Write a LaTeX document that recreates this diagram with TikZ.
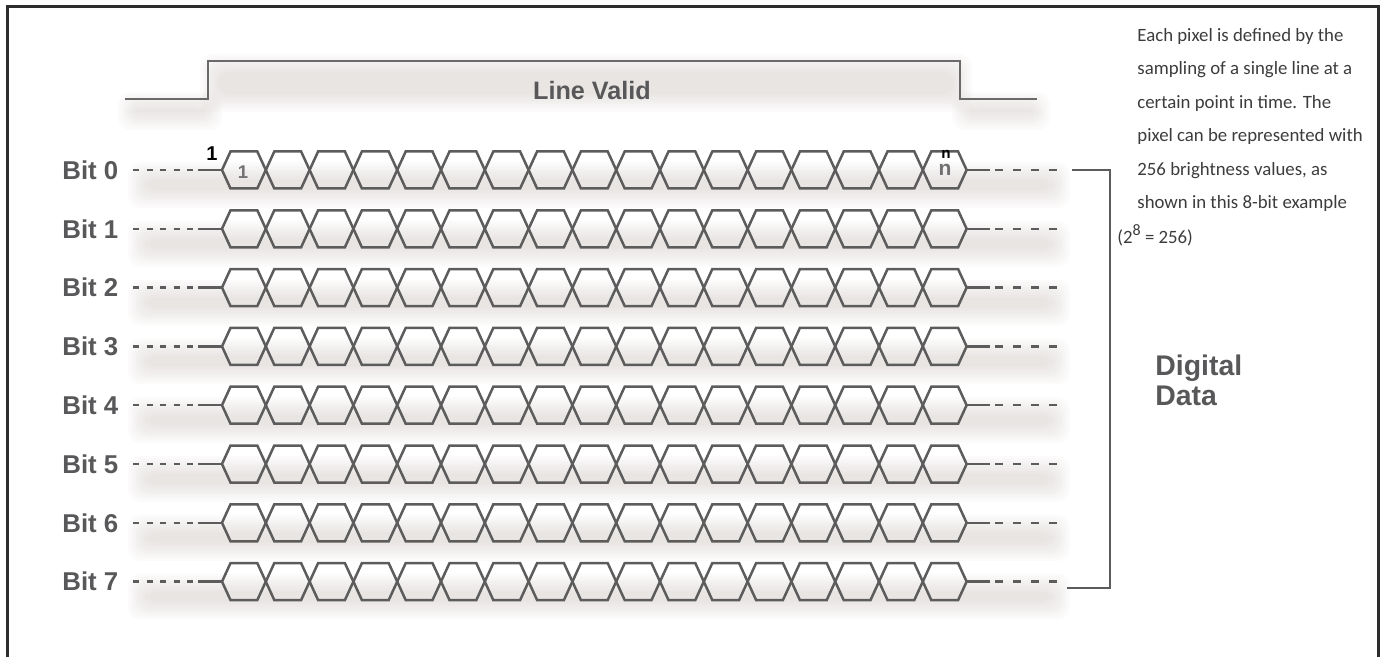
\documentclass[tikz,border=0pt]{standalone}
\usepackage{fontspec}
\setmainfont{Liberation Sans}
\newfontfamily\notefont{Carlito}
\usetikzlibrary{positioning}

\definecolor{linegray}{HTML}{5C5C5C}
\definecolor{wavegray}{HTML}{6A6A6A}
\definecolor{labelgray}{HTML}{58585A}
\definecolor{framegray}{HTML}{2D2D2D}
\definecolor{notegray}{HTML}{3C3C3C}
\definecolor{shadowtone}{RGB}{125,105,95}

% soft shadow band: x1 y1 x2 y2 (picture units)
\newcommand{\softband}[4]{%
  \foreach \j in {0,...,7}{
    \fill[shadowtone, opacity=0.022, rounded corners=6pt]
      ({#1+\j*2.5},{#2+\j*2.5}) rectangle ({#3-\j*2.5},{#4-\j*2.5});
  }}

\begin{document}
\begin{tikzpicture}[
        x=0.5pt, y=-0.5pt,
        bitlabel/.style={
            font=\bfseries\fontsize{12.9}{14}\selectfont,
            text=labelgray, inner sep=0pt, anchor=west
        },
        biglabel/.style={
            font=\bfseries\fontsize{14.2}{15}\selectfont,
            text=labelgray, inner sep=0pt, anchor=base west
        },
        note/.style={
            font=\notefont\fontsize{9.4}{16.75}\selectfont,
            text=notegray, inner sep=0pt, align=left
        },
        hexcell/.style={draw=linegray, line width=1.25pt, line join=miter},
        lead/.style={draw=linegray, line width=1.25pt},
        leaddash/.style={lead, dash pattern=on 3pt off 3.75pt},
        taildash/.style={lead, dash pattern=on 4pt off 5pt},
        wave/.style={draw=wavegray, line width=1.25pt},
        frame/.style={draw=framegray, line width=1.5pt},
        bracket/.style={draw=linegray, line width=1.25pt}
    ]
    \useasboundingbox (0,0) rectangle (1384,657);

    % Shadows
    \softband{118}{92}{222}{130}
    \softband{200}{54}{972}{112}
    \softband{952}{92}{1050}{130}
    \foreach \r in {0,...,7}{
        \pgfmathsetmacro\yy{170+58.8*\r}
        \softband{128}{\yy-8}{1070}{\yy+38}
    }

    % Frame
    \draw[frame] (7,657) |- (1378,7) -- (1378,657);

    % Line valid signal
    \coordinate (lv0) at (125,99);
    \coordinate (lv1) at (208,61);
    \coordinate (lv2) at (960,99);
    \coordinate (lv3) at (1037,99);
    \draw[wave] (lv0) -| (lv1) -| (lv2) -- (lv3);
    \node[font=\bfseries\fontsize{12.6}{14}\selectfont, text=labelgray,
        inner sep=0pt] (lvlabel) at (592,90) {Line Valid};

    % Bit rows
    \foreach \r in {0,...,7}{
        \pgfmathsetmacro\yy{170+58.8*\r}
        \node[bitlabel] (bit\r) at (62,\yy) {Bit \r};
        \coordinate (ldash\r) at (133,\yy);
        \coordinate (lsolid\r) at (198,\yy);
        \coordinate (hexL\r) at (222,\yy);
        \coordinate (hexR\r) at (966.6,\yy);
        \coordinate (rsolid\r) at (990,\yy);
        \coordinate (rdash\r) at (995,\yy);
        \coordinate (rend\r) at (1058,\yy);
        \draw[leaddash] (ldash\r) -- (lsolid\r);
        \draw[lead] (lsolid\r) -- (hexL\r);
        \draw[lead] (hexR\r) -- (rsolid\r);
        \draw[taildash] (rdash\r) -- (rend\r);
        \foreach \k in {0,...,16}{
            \draw[hexcell] ({222+43.8*\k},\yy) -- ++(8.5,-18.5) -- ++(26.8,0)
                -- ++(8.5,18.5) -- ++(-8.5,18.5) -- ++(-26.8,0) -- cycle;
        }
    }

    % Pixel marks
    \node[font=\bfseries\fontsize{10}{11}\selectfont, inner sep=0pt]
        (firstmark) at (212,154) {1};
    \node[font=\bfseries\fontsize{9.2}{10}\selectfont, text=labelgray!85,
        inner sep=0pt] (firstcell) at (243,172) {1};
    \node[font=\bfseries\fontsize{7.6}{8}\selectfont, inner sep=0pt]
        (lastmark) at (946,154) {n};
    \node[font=\bfseries\fontsize{10.5}{11}\selectfont, text=labelgray!85,
        inner sep=0pt] (lastcell) at (945,170) {n};

    % Bracket
    \coordinate (brtop) at (1072,170);
    \coordinate (brbot) at (1067,588);
    \draw[bracket] (brtop) -- ++(38,0) |- (brbot);
    \node[biglabel] (dd1) at (1155,375) {Digital};
    \node[biglabel] (dd2) at (1155,405) {Data};

    % Note
    \node[note, anchor=north west] (note) at (1137,28)
        {Each pixel is defined by the\\
         sampling of a single line at a\\
         certain point in time. The\\
         pixel can be represented with\\
         256 brightness values, as\\
         shown in this 8-bit example};
    \node[note, anchor=base west] (notesum) at (1117,244)
        {(2\raisebox{0.9ex}{\footnotesize 8} = 256)};

\end{tikzpicture}
\end{document}
